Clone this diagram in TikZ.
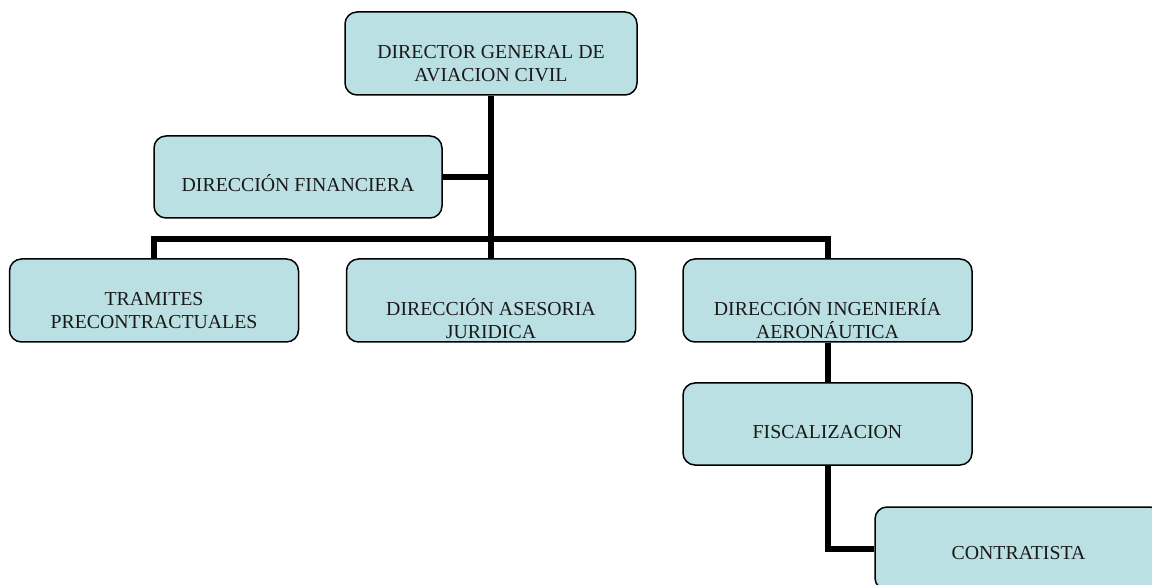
\documentclass[tikz,border=0pt]{standalone}
\usepackage{fontspec}
\setmainfont{Liberation Serif}
\definecolor{boxfill}{RGB}{187,224,227}
\begin{document}
\begin{tikzpicture}[x=1pt,y=-1pt,
  orgbox/.style={draw=black,line width=1.5pt,fill=boxfill,rounded corners=12pt,
    minimum width=#1,inner sep=0pt},
  orgbox/.default=289pt,
  orgtext/.style={align=center,font=\fontsize{19.8}{23}\selectfont,inner sep=0pt,text=black!90},
  link/.style={line width=6pt,line join=miter}]
\useasboundingbox (0,0) rectangle (1152,585);
\clip (0,0) rectangle (1152,585);
% boxes
\node[orgbox=292pt,minimum height=83pt] (dg) at (491,53.5) {};
\node[orgbox=288pt,minimum height=82pt] (fin) at (298,177) {};
\node[orgbox,minimum height=83pt] (tr) at (154,300.5) {};
\node[orgbox,minimum height=83pt] (as) at (491,300.5) {};
\node[orgbox,minimum height=83pt] (ing) at (827.5,300.5) {};
\node[orgbox,minimum height=82pt] (fis) at (827.5,424) {};
\node[orgbox=287pt,minimum height=83pt] (con) at (1018.5,548.5) {};
% texts
\node[orgtext] (dgt) at (491,64) {DIRECTOR GENERAL DE\\AVIACION CIVIL};
\node[orgtext] (fint) at (298,183) {DIRECCIÓN FINANCIERA};
\node[orgtext] (trt) at (154,311) {TRAMITES\\PRECONTRACTUALES};
\node[orgtext] (ast) at (491,318.5) {DIRECCIÓN ASESORIA\\JURIDICA};
\node[orgtext] (ingt) at (827.5,318.5) {DIRECCIÓN INGENIERÍA\\AERONÁUTICA};
\node[orgtext] (fist) at (827.5,432) {FISCALIZACION};
\node[orgtext] (cont) at (1018.5,553) {CONTRATISTA};
% connectors
\coordinate (bus) at (491,239);
\begin{scope}[on background layer/.style={}]
\draw[link] (dg.south) -- (as.north);
\draw[link] (fin.east) -- (fin.east -| dg.south);
\draw[link] (tr.north) -- (tr.north |- bus) -- (ing.north |- bus) -- (ing.north);
\draw[link] (ing.south) -- (fis.north);
\draw[link] (fis.south) |- (con.west);
\end{scope}
\end{tikzpicture}
\end{document}
